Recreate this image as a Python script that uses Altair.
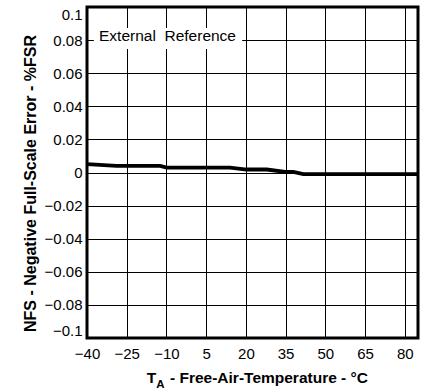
import altair as alt
import pandas as pd

# Data
temp = [-40, -28.8, -12.4, -9.9, 14, 20.3, 27.9, 34.8, 37.9, 41.7, 85]
nfs = [0.005, 0.004, 0.004, 0.003, 0.003, 0.0018, 0.0018, 0.0004, 0.0004, -0.001, -0.001]

x_ticks = [-40, -25, -10, 5, 20, 35, 50, 65, 80]
y_ticks = [-0.1, -0.08, -0.06, -0.04, -0.02, 0, 0.02, 0.04, 0.06, 0.08, 0.1]
x_domain = [-40, 85]
y_domain = [-0.1, 0.1]

note_text = ["External\u00a0\u00a0Reference"]
note_box_x = [-37.4, 18.6]
note_box_y = [0.0873, 0.0746]
note_pos = [-9.6, 0.0822]

y_title = "NFS - Negative Full-Scale Error - %FSR"
x_title_parts = ["T", "A", "- Free-Air-Temperature - °C"]

FONT = "Liberation Sans"

df = pd.DataFrame({"T": temp, "V": nfs})

xs = alt.Scale(domain=x_domain, nice=False, zero=False)
ys = alt.Scale(domain=y_domain, nice=False, zero=False)

x_axis = alt.Axis(values=x_ticks, grid=True, ticks=False, domain=False,
                  labelExpr="replace(datum.label, '-', '\u2212')",
                  labelFont=FONT, labelFontSize=15, labelColor="black",
                  labelPadding=8, labelOverlap=False, labelFlush=False, title=None,
                  gridColor="#000000", gridWidth=1, gridOpacity=1)
y_axis = alt.Axis(values=y_ticks, grid=True, ticks=False, domain=False,
                  labelExpr="replace(format(datum.value, '.2~f'), '-', '\u2212')",
                  labelFont=FONT, labelFontSize=15, labelColor="black",
                  labelPadding=5, labelFlush=True, labelOverlap=False,
                  title=y_title, titleFont=FONT, titleFontSize=16, titleFontWeight="bold",
                  titleColor="black", titleAngle=270, titleBaseline="alphabetic",
                  titleX=-52, titleY=176, titleAlign="center",
                  gridColor="#000000", gridWidth=1, gridOpacity=1)

line = alt.Chart(df).mark_line(color="black", strokeWidth=3.8).encode(
    x=alt.X("T:Q", scale=xs, axis=x_axis),
    y=alt.Y("V:Q", scale=ys, axis=y_axis),
)

box_df = pd.DataFrame({"T": [note_box_x[0]], "T2": [note_box_x[1]],
                       "V": [note_box_y[0]], "V2": [note_box_y[1]]})
box = alt.Chart(box_df).mark_rect(color="white").encode(
    x=alt.X("T:Q", scale=xs, axis=x_axis), x2="T2:Q",
    y=alt.Y("V:Q", scale=ys, axis=y_axis), y2="V2:Q",
)

note_df = pd.DataFrame({"T": [note_pos[0]], "V": [note_pos[1]], "t": note_text})
note = alt.Chart(note_df).mark_text(font=FONT, fontSize=15.5, color="black",
                                     align="center", baseline="middle").encode(
    x=alt.X("T:Q", scale=xs, axis=x_axis), y=alt.Y("V:Q", scale=ys, axis=y_axis), text="t:N"
)

t_df = pd.DataFrame({"t": [x_title_parts[0]]})
a_df = pd.DataFrame({"t": [x_title_parts[1]]})
r_df = pd.DataFrame({"t": [x_title_parts[2]]})
t_main = alt.Chart(t_df).mark_text(font=FONT, fontSize=15.5, fontWeight="bold", color="black",
                                  align="left", baseline="alphabetic").encode(
    x=alt.value(59.7), y=alt.value(376.3), text="t:N")
t_sub = alt.Chart(a_df).mark_text(font=FONT, fontSize=11.5, fontWeight="bold", color="black",
                                 align="left", baseline="alphabetic").encode(
    x=alt.value(69.3), y=alt.value(381.3), text="t:N")
t_rest = alt.Chart(r_df).mark_text(font=FONT, fontSize=15.5, fontWeight="bold", color="black",
                                  align="left", baseline="alphabetic").encode(
    x=alt.value(83), y=alt.value(376.3), text="t:N")

chart = alt.layer(box, note, line, t_main, t_sub, t_rest).properties(
    width=331, height=331,
    autosize=alt.AutoSizeParams(type="none"),
    padding={"left": 87, "top": 7, "right": 14, "bottom": 54},
    background="white",
).configure_view(stroke="black", strokeWidth=3)

chart.save("out.html", embed_options={"renderer": "svg", "actions": False})
